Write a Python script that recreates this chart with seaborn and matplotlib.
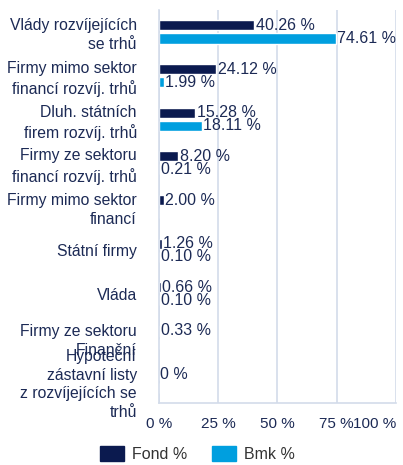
import matplotlib
matplotlib.use("Agg")
import matplotlib.pyplot as plt
from matplotlib.transforms import ScaledTranslation
import seaborn as sns
import pandas as pd
import numpy as np

# chart data
categories = [
    "Vlády rozvíjejících\nse trhů",
    "Firmy mimo sektor\nfinancí rozvíj. trhů",
    "Dluh. státních\nfirem rozvíj. trhů",
    "Firmy ze sektoru\nfinancí rozvíj. trhů",
    "Firmy mimo sektor\nfinancí",
    "Státní firmy",
    "Vláda",
    "Firmy ze sektoru\nFinanční",
    "Hypoteční\nzástavní listy\nz rozvíjejících se\ntrhů",
]
fund = [40.26, 24.12, 15.28, 8.20, 2.00, 1.26, 0.66, 0.33, 0.0]
bmk = [74.61, 1.99, 18.11, 0.21, None, 0.10, 0.10, None, None]
series_names = ["Fond %", "Bmk %"]
x_ticks = [0, 25, 50, 75, 100]

navy = "#0b1a4f"
blue = "#009fdf"
text_col = "#1c2a55"
grid_col = "#d3dcea"

df = pd.DataFrame({"cat": categories, series_names[0]: fund, series_names[1]: bmk})
long = df.melt(id_vars="cat", var_name="series", value_name="value")
long["plot_value"] = long["value"].fillna(0)

sns.set_style("white")
plt.rcParams["font.family"] = ["Liberation Sans", "DejaVu Sans"]

fig = plt.figure(figsize=(4.03, 4.65), dpi=100)
ax = fig.add_axes([0.3945, 0.1333, 0.588, 0.845])

sns.barplot(data=long, y="cat", x="plot_value", hue="series", orient="h",
            palette=[navy, blue], saturation=1, width=0.6, gap=0.23, ax=ax, legend=True)

# value labels at bar ends
for cont, vals in zip(ax.containers, [fund, bmk]):
    labels = []
    for v in vals:
        if v is None:
            labels.append("")
        elif v == 0:
            labels.append("0 %")
        else:
            labels.append(f"{v:.2f} %")
    ax.bar_label(cont, labels=labels, padding=1, fontsize=11.5, color=text_col)

ax.set_xlim(0, 100)
ax.set_ylim(len(categories) - 0.5, -0.5)
ax.set_xticks(x_ticks)
ax.set_xticklabels([f"{t} %" for t in x_ticks])
last = ax.get_xticklabels()[-1]
last.set_horizontalalignment("right")
last.set_transform(last.get_transform() + ScaledTranslation(5 / 100, 0, fig.dpi_scale_trans))
ax.set_xlabel("")
ax.set_ylabel("")

ax.xaxis.grid(True, color=grid_col, linewidth=1.2)
ax.set_axisbelow(True)
ax.tick_params(axis="x", length=0, pad=10, labelsize=11, labelcolor=text_col)
ax.tick_params(axis="y", which="major", length=0, pad=16, labelsize=11.3, labelcolor=text_col)
for lab in ax.get_yticklabels():
    lab.set_linespacing(1.3)
ax.set_yticks(np.arange(-0.5, len(categories) - 0.4, 1), minor=True)
ax.tick_params(axis="y", which="minor", length=10, color=grid_col, width=1.2)

for s in ["top", "right"]:
    ax.spines[s].set_visible(False)
for s in ["left", "bottom"]:
    ax.spines[s].set_color(grid_col)
    ax.spines[s].set_linewidth(1.2)

ax.legend_.remove()
handles = [plt.Rectangle((0, 0), 1, 1, color=navy), plt.Rectangle((0, 0), 1, 1, color=blue)]
fig.legend(handles, series_names, loc="lower center", bbox_to_anchor=(0.49, -0.025), ncol=2,
           frameon=False, fontsize=11.5, handlelength=1.5, handleheight=1.1,
           handletextpad=0.5, columnspacing=1.5, labelcolor="#333333")

fig.savefig("out.png", dpi=100)
